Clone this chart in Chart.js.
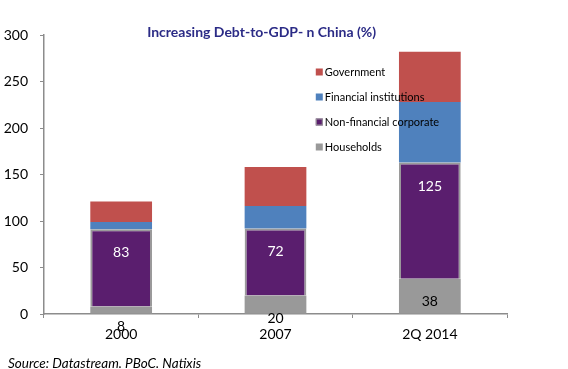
<!DOCTYPE html>
<html>
<head>
<meta charset="utf-8">
<script src="https://cdn.jsdelivr.net/npm/chart.js@4/dist/chart.umd.min.js"></script>
<style>
html,body{margin:0;padding:0;background:#fff;}
#wrap{width:568px;height:369px;position:relative;}
</style>
</head>
<body>
<div id="wrap"><canvas id="c" width="568" height="369"></canvas></div>
<script>
const categories = ['2000', '2007', '2Q 2014'];
const households = [8, 20, 38];
const nonFinancialCorporate = [83, 72, 125];
const financialInstitutions = [8, 24, 65];
const government = [22, 42, 54];
const yTicks = [0, 50, 100, 150, 200, 250, 300];
const titleText = 'Increasing Debt-to-GDP- n China (%)';
const sourceText = 'Source: Datastream. PBoC. Natixis';

const FONT = 'Lato, "Open Sans", sans-serif';

// label offsets from segment centre (px), mimicking the reference's placed labels
const hhLabelShift = [16, 14, 5];
const nfLabelShift = [-15, -10, -34];

const legendItems = [
  {text: 'Government', fill: '#C0504D', stroke: null},
  {text: 'Financial institutions', fill: '#4F81BD', stroke: null},
  {text: 'Non-financial corporate', fill: '#5A1E6E', stroke: '#9A9A9A'},
  {text: 'Households', fill: '#999999', stroke: null}
];

const labelsPlugin = {
  id: 'segLabels',
  afterDatasetsDraw(chart) {
    const ctx = chart.ctx;
    ctx.save();
    ctx.font = '14px ' + FONT;
    ctx.textAlign = 'center';
    ctx.textBaseline = 'middle';
    const hh = chart.getDatasetMeta(0).data;
    const nf = chart.getDatasetMeta(1).data;
    hh.forEach((bar, i) => {
      const p = bar.getProps(['x', 'y', 'base'], true);
      ctx.fillStyle = '#000';
      ctx.fillText(String(households[i]), p.x, (p.y + p.base) / 2 + hhLabelShift[i]);
    });
    nf.forEach((bar, i) => {
      const p = bar.getProps(['x', 'y', 'base'], true);
      ctx.fillStyle = '#fff';
      ctx.fillText(String(nonFinancialCorporate[i]), p.x, (p.y + p.base) / 2 + nfLabelShift[i]);
    });
    ctx.restore();
  },
  afterDraw(chart) {
    const ctx = chart.ctx;
    const a = chart.chartArea;
    ctx.save();
    // title
    ctx.font = 'bold 14px ' + FONT;
    ctx.fillStyle = '#2B2B86';
    ctx.textAlign = 'center';
    ctx.textBaseline = 'middle';
    ctx.fillText(titleText, a.left + (a.right - a.left) * 0.47, 32);
    // legend
    const lx = a.left + (a.right - a.left) * 0.587;
    ctx.font = '11px ' + FONT;
    ctx.textAlign = 'left';
    legendItems.forEach((it, i) => {
      const y = a.top + 37 + i * 25;
      ctx.fillStyle = it.fill;
      ctx.fillRect(lx, y - 3.5, 7, 7);
      if (it.stroke) {
        ctx.strokeStyle = it.stroke;
        ctx.lineWidth = 1;
        ctx.strokeRect(lx + 0.5, y - 3, 6, 6);
      }
      ctx.fillStyle = '#000';
      ctx.fillText(it.text, lx + 9, y);
    });
    // source
    ctx.font = 'italic 13.5px ' + FONT;
    ctx.fillStyle = '#000';
    ctx.textAlign = 'left';
    ctx.fillText(sourceText, 8, 364);
    ctx.restore();
  }
};

new Chart(document.getElementById('c'), {
  type: 'bar',
  data: {
    labels: categories,
    datasets: [
      {label: 'Households', data: households, backgroundColor: '#999999', borderWidth: 0},
      {label: 'Non-financial corporate', data: nonFinancialCorporate, backgroundColor: '#5A1E6E', borderColor: '#9A9A9A', borderWidth: 2},
      {label: 'Financial institutions', data: financialInstitutions, backgroundColor: '#4F81BD', borderWidth: 0},
      {label: 'Government', data: government, backgroundColor: '#C0504D', borderWidth: 0}
    ]
  },
  options: {
    responsive: false,
    animation: false,
    devicePixelRatio: 1,
    layout: {padding: {left: 0, right: 61, top: 35, bottom: 25}},
    plugins: {legend: {display: false}, title: {display: false}, tooltip: {enabled: false}},
    datasets: {bar: {barPercentage: 0.4, categoryPercentage: 1}},
    scales: {
      x: {
        stacked: true,
        afterFit(s) { s.height = 30; },
        grid: {drawOnChartArea: false, drawTicks: true, tickLength: 4, color: '#8C8C8C', offset: true},
        border: {display: true, color: '#8C8C8C', width: 1.5},
        ticks: {color: '#000', font: {family: FONT, size: 14}, padding: 8, maxRotation: 0}
      },
      y: {
        stacked: true,
        min: 0, max: 300,
        afterFit(s) { s.width = 44; },
        afterBuildTicks(s) { s.ticks = yTicks.map(v => ({value: v})); },
        grid: {drawOnChartArea: false, drawTicks: true, tickLength: 4, color: '#8C8C8C'},
        border: {display: true, color: '#8C8C8C', width: 1.5},
        ticks: {color: '#000', font: {family: FONT, size: 14}, padding: 12}
      }
    }
  },
  plugins: [labelsPlugin]
});
</script>
</body>
</html>
